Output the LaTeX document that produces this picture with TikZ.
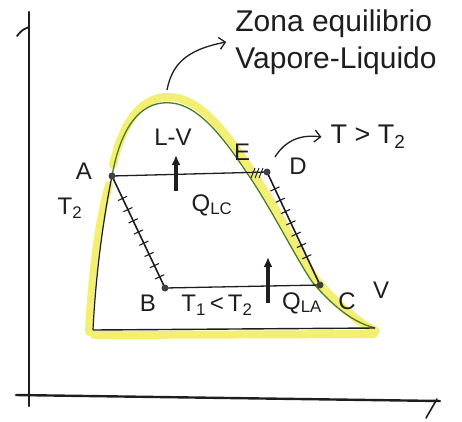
\documentclass[tikz,border=0pt]{standalone}
\usepackage{fontspec}
\setmainfont{Liberation Sans}
\usetikzlibrary{positioning,arrows.meta,calc,decorations.markings}
\definecolor{ink}{HTML}{1E1E1E}
\definecolor{dome}{HTML}{4A7A26}
\definecolor{marker}{HTML}{F3EF72}

\tikzset{
  hand/.style={font=\fontsize{24}{28}\selectfont, text=ink, inner sep=1pt},
  dot/.style={circle, fill=ink!85, inner sep=0pt, minimum size=7pt},
  hatched/.style n args={2}{ink, line width=1.6pt, postaction={decorate},
    decoration={markings, mark=between positions #1 and #2 step 0.1 with {\draw[line width=1.1pt] (0,-5pt) -- (0,5pt);}}},
  heat/.style={-{Latex[length=10pt,width=9pt]}, line width=3.6pt, ink},
  pointer/.style={-{Straight Barb[length=6pt]}, line width=1.3pt, ink},
  axis/.style={ink, line width=2.4pt, line cap=round},
}

\begin{document}
\begin{tikzpicture}[x=1pt, y=-1pt]
    \useasboundingbox (0,0) rectangle (462,421);
    % axes
    \draw[axis] (29,12) -- (29,406);
    \draw[axis] (16,395) -- (440,401);
    \draw[axis, line width=1.8pt] (17,36) .. controls (22,30) .. (29,27);
    \draw[axis, line width=1.6pt] (437,399) -- (426,418);
    % highlight
    \draw[marker, line width=8pt, line cap=round]
      (89,332) .. controls (92,270) and (100,215) .. (109,185);
    \draw[marker, line width=8pt, line cap=round]
      (113,165) .. controls (125,112) and (148,95) .. (172,97)
      .. controls (203,100) and (228,136) .. (251,170)
      .. controls (276,206) and (303,262) .. (318,282)
      .. controls (338,304) and (357,322) .. (376,331);
    \draw[marker, line width=8pt, line cap=round] (94,335) -- (374,334);
    % points
    \coordinate (A) at (112,176);
    \coordinate (E) at (247,173);
    \coordinate (D) at (267,172);
    \coordinate (B) at (165,288);
    \coordinate (C) at (320,285);
    \coordinate (L0) at (93,330);
    \coordinate (R0) at (375,328);
    % dome
    \draw[ink, line width=1.2pt] (L0) .. controls (96,270) and (104,215) .. (A);
    \draw[dome, line width=1.3pt] (A) .. controls (122,120) and (145,100) .. (172,103)
      .. controls (200,106) and (225,140) .. (E)
      .. controls (270,206) and (298,262) .. (313,283)
      .. controls (333,306) and (352,322) .. (R0);
    \draw[ink, line width=1.4pt] (R0) -- (L0);
    % cycle
    \draw[ink, line width=1.3pt] (A) -- (D);
    \draw[ink, line width=1.3pt] (B) -- (C);
    \draw[hatched={0.2}{0.95}] (A) -- (B);
    \draw[hatched={0.15}{0.85}] (D) -- (C);
    \foreach \sx in {251,255,259} \draw[ink, line width=1pt] (\sx,178) -- (\sx+4,168);
    \foreach \p in {A,D,B,C} \node[dot] (dot\p) at (\p) {};
    % heat
    \coordinate (qc0) at (176,191); \coordinate (qc1) at (176,155);
    \coordinate (qa0) at (268,303); \coordinate (qa1) at (268,257);
    \draw[heat] (qc0) -- (qc1);
    \draw[heat] (qa0) -- (qa1);
    % labels
    \node[hand] (labA) at (84,171) {A};
    \node[hand] (labT) at (70,208) {T\textsubscript{2}};
    \node[hand] (labE) at (242,152) {E};
    \node[hand] (labD) at (298,166) {D};
    \node[hand] (labB) at (148,303) {B};
    \node[hand] (labC) at (347,301) {C};
    \node[hand] (labV) at (381,290) {V};
    \node[hand] (labLV) at (173,137) {L-V};
    \node[hand] (labQc) at (212,205) {Q\textsubscript{LC}};
    \node[hand] (labQa) at (302,303) {Q\textsubscript{LA}};
    \node[hand] (labTT) at (217,305) {T\textsubscript{1}\,<\,T\textsubscript{2}};
    \node[hand, font=\fontsize{27}{30}\selectfont] (labTD) at (368,137) {T > T\textsubscript{2}};
    \node[hand, align=left, font=\fontsize{30}{37}\selectfont] (zona) at (336,42) {Zona equilibrio\\Vapore-Liquido};
    % pointers
    \coordinate (peak) at (167,90);
    \coordinate (nearD) at (275,157);
    \draw[pointer] (peak) .. controls (172,65) and (185,50) .. ([xshift=-8pt]zona.west);
    \draw[pointer] (nearD) .. controls (285,141) and (300,134) .. ([xshift=-8pt]labTD.west);
\end{tikzpicture}
\end{document}
